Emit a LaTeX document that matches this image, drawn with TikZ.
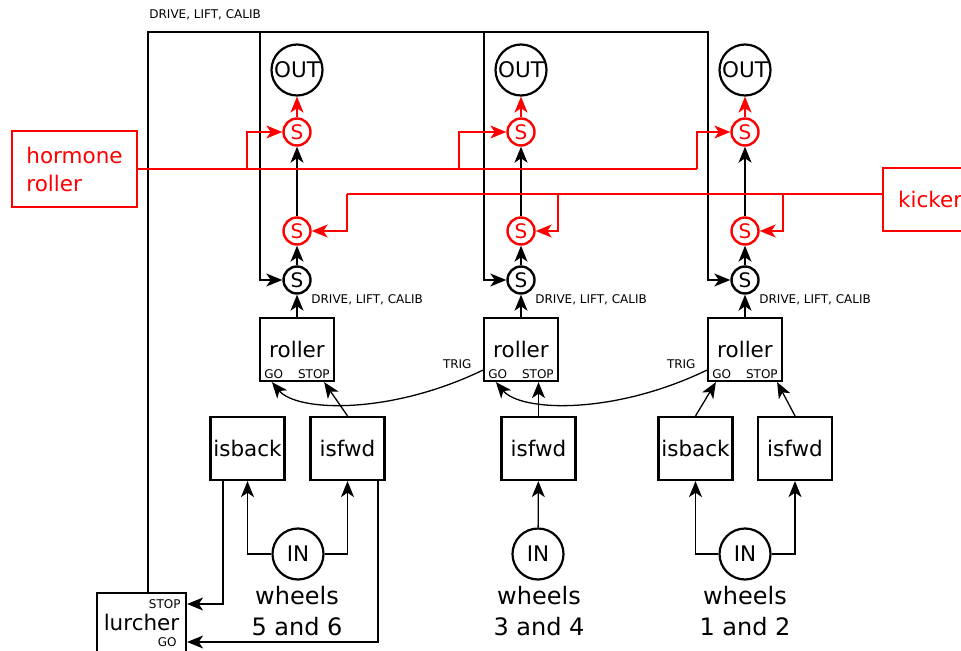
\documentclass[tikz,border=0pt]{standalone}
\usepackage{fontspec}
\setmainfont{DejaVu Sans}
\usepackage{tikz}
\usetikzlibrary{positioning, calc, arrows.meta}
\definecolor{sigred}{RGB}{255, 0, 0}

\begin{document}
\begin{tikzpicture}[x=0.5pt, y=-0.5pt,
    box/.style={rectangle, draw, line width=1.1pt, minimum width=37pt, minimum height=31.5pt, inner sep=0pt, font=\fontsize{10.75}{14}\selectfont},
    sw/.style={circle, draw, line width=1.2pt, minimum size=13.5pt, inner sep=0pt, font=\fontsize{10}{11}\selectfont},
    port/.style={circle, draw, line width=1.1pt, minimum size=25.5pt, inner sep=0pt, font=\fontsize{10.75}{13}\selectfont},
    tag/.style={inner xsep=2.5pt, inner ysep=1.5pt, font=\fontsize{6}{7}\selectfont},
    wheel/.style={align=center, inner sep=0pt, font=\fontsize{12}{15.5}\selectfont},
    wire/.style={line width=0.65pt},
    link/.style={wire, -{Stealth[length=8pt, width=6.5pt, inset=2.2pt]}},
    hwire/.style={wire, sigred},
    hlink/.style={link, sigred}
]
    \useasboundingbox (0,0) rectangle (961,651);
    \clip (0,0) rectangle (961,651);

    % Wheels 5 and 6
    \node[port] (out1) at (297,70) {OUT};
    \node[sw, sigred] (hs1) at (297,132) {S};
    \node[sw, sigred] (ks1) at (297,231) {S};
    \node[sw] (bs1) at (297,280) {S};
    \node[box] (roller1) at (297,349.5) {roller};
    \node[tag, anchor=south west] (go1) at (roller1.south west) {GO};
    \node[tag, anchor=south east] (stop1) at (roller1.south east) {STOP};
    \node[tag, anchor=west] (drive1) at (306,300) {DRIVE, LIFT, CALIB};
    \node[box] (isback1) at (247.5,448.5) {isback};
    \node[box] (isfwd1) at (347.5,448.5) {isfwd};
    \node[port] (in1) at (298,554) {IN};
    \node[wheel] (wheels1) at (297,611) {wheels\\5 and 6};

    % Wheels 3 and 4
    \node[port] (out2) at (521,70) {OUT};
    \node[sw, sigred] (hs2) at (521,132) {S};
    \node[sw, sigred] (ks2) at (521,231) {S};
    \node[sw] (bs2) at (521,280) {S};
    \node[box] (roller2) at (521,349.5) {roller};
    \node[tag, anchor=south west] (go2) at (roller2.south west) {GO};
    \node[tag, anchor=south east] (stop2) at (roller2.south east) {STOP};
    \node[tag, anchor=west] (drive2) at (530,300) {DRIVE, LIFT, CALIB};
    \node[tag, anchor=east] (trig2) at ($(roller2.south west)+(-6,-18)$) {TRIG};
    \node[box] (isfwd2) at (538.5,448.5) {isfwd};
    \node[port] (in2) at (538,554) {IN};
    \node[wheel] (wheels2) at (539,611) {wheels\\3 and 4};

    % Wheels 1 and 2
    \node[port] (out3) at (745,70) {OUT};
    \node[sw, sigred] (hs3) at (745,132) {S};
    \node[sw, sigred] (ks3) at (745,231) {S};
    \node[sw] (bs3) at (745,280) {S};
    \node[box] (roller3) at (745,349.5) {roller};
    \node[tag, anchor=south west] (go3) at (roller3.south west) {GO};
    \node[tag, anchor=south east] (stop3) at (roller3.south east) {STOP};
    \node[tag, anchor=west] (drive3) at (754,300) {DRIVE, LIFT, CALIB};
    \node[tag, anchor=east] (trig3) at ($(roller3.south west)+(-6,-18)$) {TRIG};
    \node[box] (isback3) at (695.5,448.5) {isback};
    \node[box] (isfwd3) at (795,448.5) {isfwd};
    \node[port] (in3) at (745,554) {IN};
    \node[wheel] (wheels3) at (745,611) {wheels\\1 and 2};

    % Lurcher
    \node[box, anchor=north, minimum width=44.5pt, minimum height=33pt] (lurcher) at (141.5,592) {};
    \node[inner sep=0pt, font=\fontsize{10.75}{13}\selectfont] (lurchertxt) at (141.5,622) {lurcher};
    \node[tag, anchor=east] (lstop) at (186,604) {STOP};
    \node[tag, anchor=east] (lgo) at (182,642) {GO};
    \node[tag, anchor=west] (buslabel) at (144,15) {DRIVE, LIFT, CALIB};

    % Hormones
    \node[box, sigred, minimum width=62.5pt, minimum height=38pt, align=left] (hormone) at (74.5,169) {hormone\\roller};
    \node[box, sigred, anchor=west, minimum width=47pt, inner xsep=7pt] (kicker) at (882,199.5) {kicker};

    % Lurcher bus
    \coordinate (bus1) at (260,32);
    \coordinate (bus2) at (484,32);
    \coordinate (bus3) at (708,32);
    \draw[link] ([xshift=3.25pt]lurcher.north) |- (bus3) |- (bs3);
    \draw[link] (bus1) |- (bs1);
    \draw[link] (bus2) |- (bs2);

    % Switch chains
    \draw[link] (roller1) -- (bs1);
    \draw[link] (bs1) -- (ks1);
    \draw[link] (ks1) -- (hs1);
    \draw[hlink] (hs1) -- (out1);
    \draw[link] (roller2) -- (bs2);
    \draw[link] (bs2) -- (ks2);
    \draw[link] (ks2) -- (hs2);
    \draw[hlink] (hs2) -- (out2);
    \draw[link] (roller3) -- (bs3);
    \draw[link] (bs3) -- (ks3);
    \draw[link] (ks3) -- (hs3);
    \draw[hlink] (hs3) -- (out3);

    % Hormone roller
    \coordinate (h1) at (247,169);
    \coordinate (h2) at (459,169);
    \coordinate (h3) at (697,169);
    \draw[hwire] (hormone) -- (h3);
    \draw[hlink] (h1) |- (hs1);
    \draw[hlink] (h2) |- (hs2);
    \draw[hlink] (h3) |- (hs3);

    % Kicker
    \coordinate (k1) at (347,194);
    \coordinate (k2) at (558,194);
    \coordinate (k3) at (783,194);
    \draw[hwire] (kicker.west |- k3) -- (k1);
    \draw[hlink] (k1) |- (ks1);
    \draw[hlink] (k2) |- (ks2);
    \draw[hlink] (k3) |- (ks3);

    % Triggers between rollers
    \draw[link] ($(roller2.south west)+(0,-12)$) .. controls (390,415) and (297,412) .. ($(roller1.south west)+(13,0)$);
    \draw[link] ($(roller3.south west)+(0,-12)$) .. controls (614,415) and (521,412) .. ($(roller2.south west)+(13,0)$);

    % Sensors into rollers
    \draw[link] (isfwd1.north) -- ($(roller1.south east)+(-11,0)$);
    \draw[link] (isfwd2.north) -- (isfwd2.north |- roller2.south);
    \draw[link] (isback3.north) -- ($(roller3.south west)+(9,0)$);
    \draw[link] (isfwd3.north) -- ($(roller3.south east)+(-6,0)$);

    % Inputs into sensors
    \draw[link] (in1) -| (isback1);
    \draw[link] (in1) -| (isfwd1);
    \draw[link] (in2) -- (isfwd2);
    \draw[link] (in3) -| (isback3);
    \draw[link] (in3) -| (isfwd3);

    % Sensors into lurcher
    \draw[link] ([xshift=-12.25pt]isback1.south) |- (lurcher.east |- lstop);
    \draw[link] ([xshift=15.25pt]isfwd1.south) |- (lurcher.east |- lgo);
\end{tikzpicture}
\end{document}
